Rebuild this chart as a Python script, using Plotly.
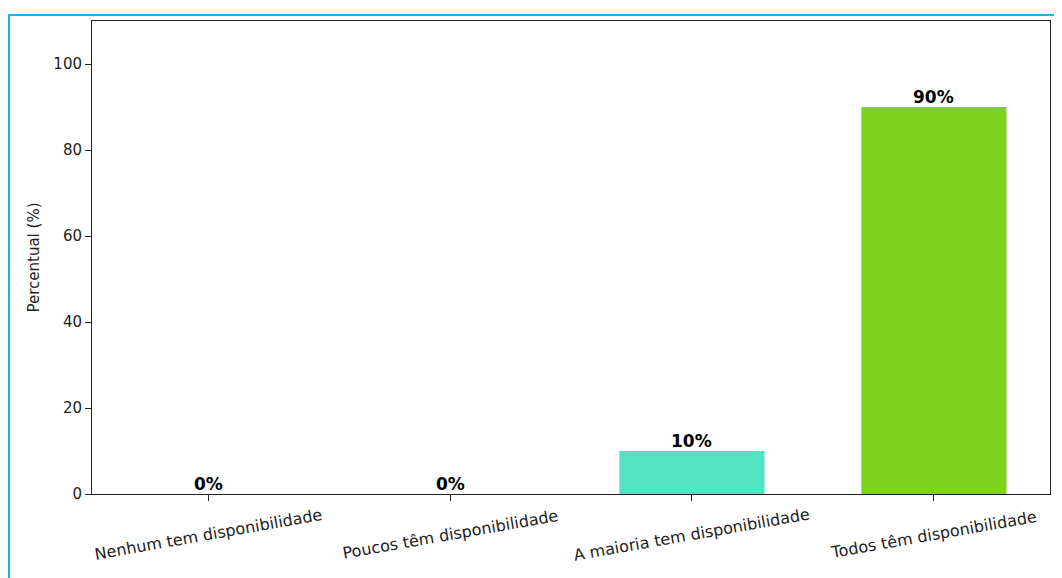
import plotly.graph_objects as go

categorias = [
    "Nenhum tem disponibilidade",
    "Poucos têm disponibilidade",
    "A maioria tem disponibilidade",
    "Todos têm disponibilidade",
]
percentuais = [0, 0, 10, 90]
cores = ["#5b8ff9", "#f6bd16", "#52E3C2", "#7ED321"]
y_ticks = [0, 20, 40, 60, 80, 100]

fig = go.Figure(
    go.Bar(
        x=categorias,
        y=percentuais,
        marker=dict(color=cores, line=dict(width=0)),
        width=0.6,
        hoverinfo="x+y",
    )
)

fig.update_layout(
    width=1054,
    height=570,
    paper_bgcolor="white",
    plot_bgcolor="white",
    showlegend=False,
    font=dict(family="DejaVu Sans", size=15, color="#222"),
    margin=dict(l=84, r=12, t=13, b=84),
)

fig.update_xaxes(
    range=[-0.48, 3.48],
    showticklabels=False,
    showline=True,
    linecolor="#222",
    linewidth=1,
    mirror=True,
    ticks="outside",
    ticklen=6,
    tickcolor="#222",
    showgrid=False,
)
fig.update_yaxes(
    range=[0, 110],
    tickvals=y_ticks,
    showline=True,
    linecolor="#222",
    linewidth=1,
    mirror=True,
    ticks="outside",
    ticklen=6,
    tickcolor="#222",
    showgrid=False,
    zeroline=False,
    title=dict(text="Percentual (%)", standoff=10, font=dict(size=15)),
    tickfont=dict(size=15),
)

# valores em cima das barras
for cat, val in zip(categorias, percentuais):
    fig.add_annotation(
        x=cat, y=val,
        text=f"<b>{val}%</b>",
        showarrow=False,
        yanchor="bottom",
        yshift=-2,
        font=dict(family="DejaVu Sans", size=17, color="black"),
    )

# rótulos do eixo x centrados no tick e inclinados (como rotation=10 do matplotlib)
for cat in categorias:
    fig.add_annotation(
        x=cat, xref="x",
        y=-0.085, yref="paper",
        text=cat,
        textangle=-10,
        showarrow=False,
        xanchor="center", yanchor="middle",
        font=dict(family="DejaVu Sans", size=16, color="#222"),
    )

# moldura azul em volta da figura
fig.add_shape(
    type="rect",
    xref="paper", yref="paper",
    x0=-0.0866, x1=1.02, y0=-0.2, y1=1.0127,
    line=dict(color="#1AB2F0", width=2),
    layer="below",
)

fig.write_html("out.html")
